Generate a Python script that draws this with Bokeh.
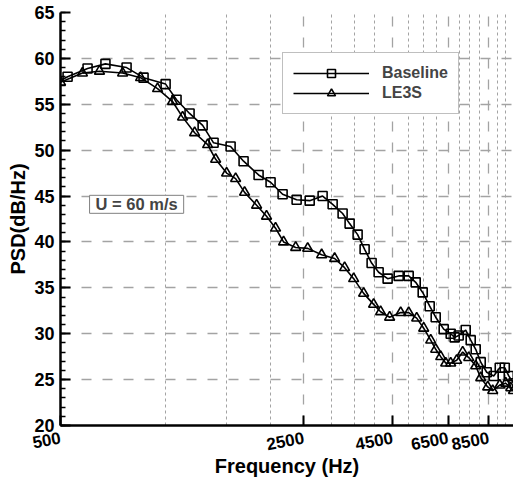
from bokeh.plotting import figure
from bokeh.models import FixedTicker, Range1d, Label, Legend, LegendItem, NumeralTickFormatter
from bokeh.embed import file_html
from bokeh.resources import INLINE

# ---- data ----
freq_baseline = [500, 524, 598, 673, 774, 866, 1002, 1077, 1174, 1280,
                 1376, 1540, 1678, 1853, 2006, 2172, 2383, 2598, 2830, 3024,
                 3230, 3383, 3567, 3736, 3913, 4099, 4350, 4680, 5000, 5237,
                 5485, 5745, 5978, 6303, 6601, 6778, 6960, 7290, 7535, 7789,
                 8051, 8377, 8773, 9131, 9438, 9691, 10000]
psd_baseline = [57.6, 58.0, 58.9, 59.4, 59.0, 57.9, 57.2, 55.5, 54.0, 52.7,
                50.8, 50.4, 48.8, 47.3, 46.5, 45.2, 44.6, 44.5, 45.0, 44.1,
                43.1, 42.0, 40.8, 39.2, 37.7, 36.7, 36.0, 36.3, 36.3, 35.6,
                34.5, 33.0, 31.8, 30.5, 30.0, 29.6, 29.8, 30.4, 29.3, 28.3,
                26.9, 25.8, 25.4, 26.3, 26.3, 25.4, 24.6]

freq_le3s = [500, 578, 647, 754, 849, 950, 1049, 1121, 1214, 1323,
             1395, 1500, 1592, 1689, 1829, 1953, 2073, 2186, 2368, 2564,
             2812, 3064, 3273, 3475, 3712, 3965, 4153, 4408, 4742, 5000,
             5272, 5522, 5784, 5978, 6180, 6387, 6601, 6868, 7146, 7436,
             7789, 8051, 8432, 8716, 9131, 9501, 9820, 10000]
psd_le3s = [57.4, 58.4, 58.6, 58.4, 57.9, 56.7, 55.3, 53.6, 51.9, 50.6,
            49.0, 47.5, 46.9, 45.4, 44.0, 42.8, 41.5, 40.0, 39.4, 39.3,
            38.6, 38.2, 37.2, 36.0, 34.4, 33.2, 32.4, 31.8, 32.3, 32.3,
            31.7, 30.6, 29.3, 28.3, 27.5, 26.8, 26.8, 27.1, 28.0, 27.4,
            26.5, 25.2, 24.2, 23.8, 24.4, 24.6, 24.1, 23.8]

x_major_ticks = [500, 2500, 4500, 6500, 8500]
x_minor_ticks = [1000, 1500, 2000, 3000, 3500, 4000, 5000, 5500, 6000,
                 7000, 7500, 8000, 9000, 9500]
y_major_ticks = [20, 25, 30, 35, 40, 45, 50, 55, 60, 65]
y_minor_ticks = list(range(20, 66))

series_names = ["Baseline", "LE3S"]
annotation_text = "U = 60 m/s"

FONT = "Liberation Sans"

p = figure(width=513, height=483, x_axis_type="log",
           x_range=Range1d(500, 10000), y_range=Range1d(20, 65),
           output_backend="svg", toolbar_location=None,
           min_border_left=60, min_border_right=0,
           min_border_top=12, min_border_bottom=58)
p.outline_line_color = None
p.background_fill_color = "white"
p.border_fill_color = "white"

# grids
p.xgrid.grid_line_color = "#a3a3a3"
p.xgrid.grid_line_dash = "10 11"
p.xgrid.grid_line_width = 1.3
p.xgrid.minor_grid_line_color = "#a3a3a3"
p.xgrid.minor_grid_line_dash = "3 3"
p.xgrid.minor_grid_line_width = 1
p.ygrid.grid_line_color = "#a3a3a3"
p.ygrid.grid_line_dash = "10 11"
p.ygrid.grid_line_width = 1.5

# axes
p.xaxis.ticker = FixedTicker(ticks=x_major_ticks, minor_ticks=x_minor_ticks)
p.yaxis.ticker = FixedTicker(ticks=y_major_ticks, minor_ticks=y_minor_ticks)
p.xaxis.formatter = NumeralTickFormatter(format="0")

for ax in (p.xaxis, p.yaxis):
    ax.axis_line_color = "black"
    ax.axis_line_width = 2.5
    ax.major_tick_line_color = "black"
    ax.major_tick_line_width = 2
    ax.major_tick_in = 10
    ax.major_tick_out = 0
    ax.major_label_text_font = FONT
    ax.major_label_text_font_style = "bold"
    ax.major_label_text_color = "black"
    ax.axis_label_text_font = FONT
    ax.axis_label_text_font_style = "bold"
    ax.axis_label_text_font_size = "20px"
    ax.axis_label_text_color = "black"

p.xaxis.minor_tick_line_color = None
p.xaxis.major_label_text_font_size = "17px"
p.xaxis.major_label_orientation = 0.18
p.xaxis.major_label_standoff = 8
p.xaxis.axis_label = "Frequency (Hz)"
p.xaxis.axis_label_standoff = -4

p.yaxis.minor_tick_line_color = "black"
p.yaxis.minor_tick_line_width = 1.5
p.yaxis.minor_tick_in = 5
p.yaxis.minor_tick_out = 0
p.yaxis.major_label_text_font_size = "18px"
p.yaxis.major_label_standoff = 6
p.yaxis.axis_label = "PSD(dB/Hz)"
p.yaxis.axis_label_standoff = 2

# series
l1 = p.line(freq_baseline, psd_baseline, line_color="black", line_width=1.6)
s1 = p.scatter(freq_baseline[1:], psd_baseline[1:], marker="square", size=9,
               line_color="black", line_width=1.6, fill_color=None)
l2 = p.line(freq_le3s, psd_le3s, line_color="black", line_width=1.6)
s2 = p.scatter(freq_le3s, psd_le3s, marker="triangle", size=10,
               line_color="black", line_width=1.6, fill_color=None)

legend = Legend(items=[LegendItem(label=series_names[0], renderers=[l1, s1]),
                       LegendItem(label=series_names[1], renderers=[l2, s2])],
                location=(222, 311))
legend.border_line_color = "#808080"
legend.border_line_width = 1
legend.background_fill_color = "white"
legend.background_fill_alpha = 1
legend.label_text_font = FONT
legend.label_text_font_style = "bold"
legend.label_text_font_size = "16px"
legend.glyph_width = 76
legend.glyph_height = 20
legend.label_height = 20
legend.label_standoff = 13
legend.padding = 10
legend.spacing = 0
legend.margin = 0
p.add_layout(legend)

lab = Label(x=606, y=44.1, text=annotation_text, text_font=FONT,
            text_font_style="bold", text_font_size="16.5px",
            text_baseline="middle", text_align="left",
            border_line_color="#808080", border_line_width=1,
            background_fill_color="white",
            padding=dict(left=6, right=6, top=0, bottom=0))
p.add_layout(lab)

open("out.html", "w").write(file_html(p, INLINE))
